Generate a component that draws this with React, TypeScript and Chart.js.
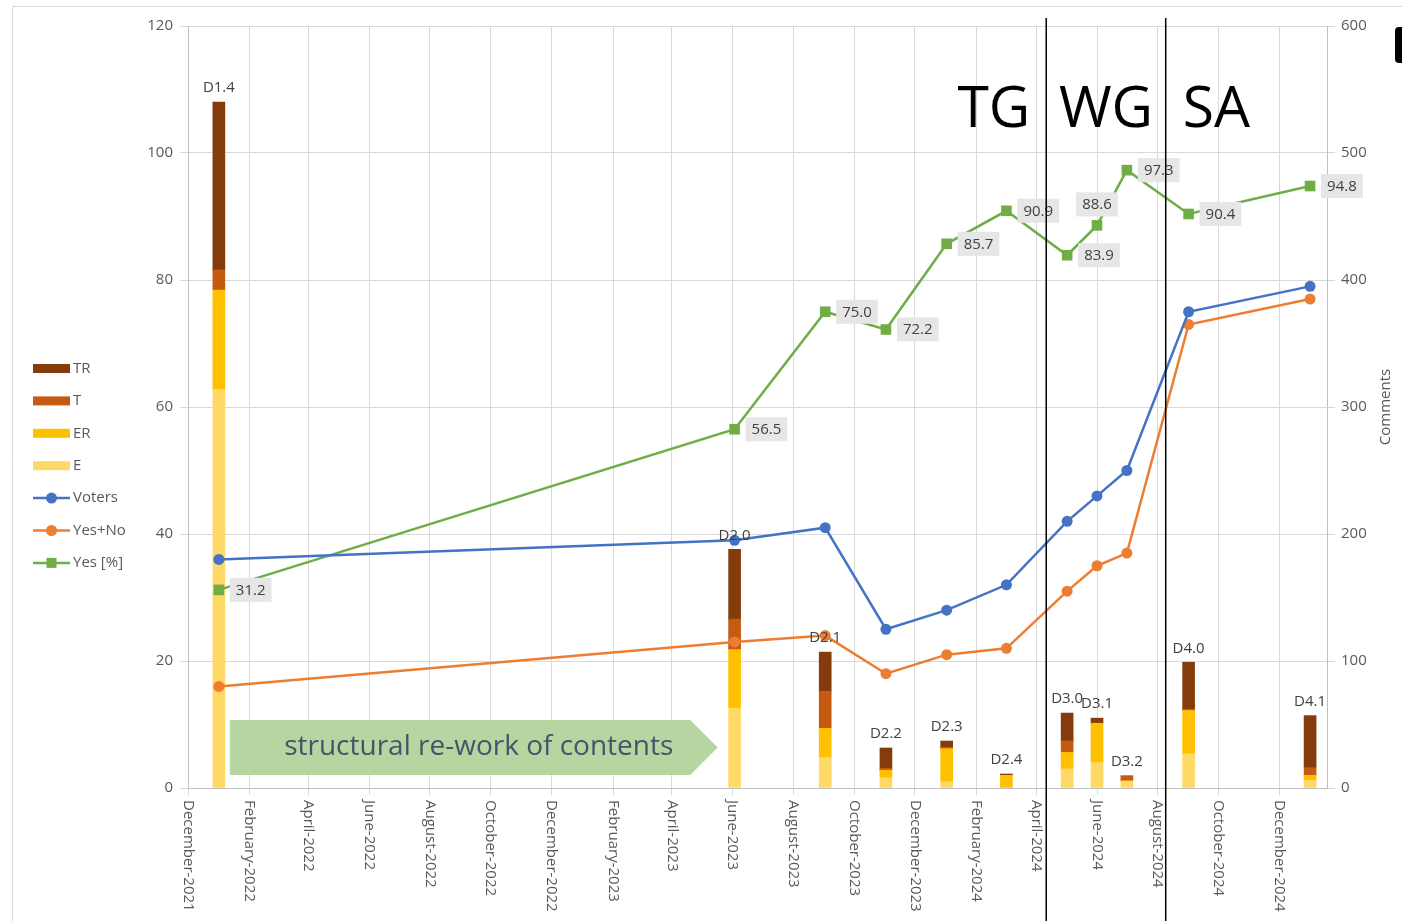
import React, { useEffect, useRef } from 'react';
import { Chart, registerables } from 'chart.js';

Chart.register(...registerables);

// x values are days since 1 December 2021
const releaseDays = [31, 549, 640, 701, 762, 822, 883, 913, 943, 1005, 1127];
const releaseNames = ['D1.4', 'D2.0', 'D2.1', 'D2.2', 'D2.3', 'D2.4', 'D3.0', 'D3.1', 'D3.2', 'D4.0', 'D4.1'];

// comments (right axis), stacked bottom -> top: E, ER, T, TR
const commentsE = [314, 63, 24, 8, 5, 0, 15, 20, 5.5, 27, 6];
const commentsER = [78, 46, 23, 6, 26, 10, 13, 31, 0, 34, 4];
const commentsT = [16, 24, 29, 1.5, 1, 0, 9, 0, 4, 1, 6];
const commentsTR = [132, 55, 31, 16, 5, 1, 22, 4, 0, 37, 41];

// left axis series
const voters = [36, 39, 41, 25, 28, 32, 42, 46, 50, 75, 79];
const yesNo = [16, 23, 24, 18, 21, 22, 31, 35, 37, 73, 77];
const yesPct = [31.2, 56.5, 75.0, 72.2, 85.7, 90.9, 83.9, 88.6, 97.3, 90.4, 94.8];

// x-axis tick positions (days since 1 Dec 2021) and labels
const monthTickDays = [0, 62, 121, 182, 243, 304, 365, 427, 486, 547, 608, 669, 730, 792, 852, 913, 974, 1035, 1096];
const monthTickLabels = [
  'December-2021', 'February-2022', 'April-2022', 'June-2022', 'August-2022', 'October-2022',
  'December-2022', 'February-2023', 'April-2023', 'June-2023', 'August-2023', 'October-2023',
  'December-2023', 'February-2024', 'April-2024', 'June-2024', 'August-2024', 'October-2024',
  'December-2024',
];
const xMinDay = 0;
const xMaxDay = 1144;

// phase boundaries (days) and phase names
const phaseBoundaryDays = [862, 982];
const phaseNames = ['TG', 'WG', 'SA'];

// annotation arrow (days and left-axis values)
const arrowText = 'structural re-work of contents';
const arrowDays = [42, 532];
const arrowValues = [2.05, 10.7];

const FONT = "'Open Sans', sans-serif";
const C_TR = '#843c0c';
const C_T = '#c55a11';
const C_ER = '#ffc000';
const C_E = '#ffd966';
const C_V = '#4472c4';
const C_YN = '#ed7d31';
const C_Y = '#70ad47';

const yesLabelAbove = [false, false, false, false, false, false, false, true, false, false, false];

const pts = (vals: number[]) => releaseDays.map((d, i) => ({ x: d, y: vals[i] }));

const decor = {
  id: 'decor',
  beforeDraw(chart: any) {
    const { ctx, width, height } = chart;
    ctx.save();
    ctx.fillStyle = '#ffffff';
    ctx.fillRect(0, 0, width, height);
    ctx.strokeStyle = '#d9d9d9';
    ctx.lineWidth = 1;
    ctx.beginPath();
    ctx.moveTo(12.5, height);
    ctx.lineTo(12.5, 6.5);
    ctx.lineTo(width, 6.5);
    ctx.stroke();
    ctx.restore();
  },
  beforeDatasetsDraw(chart: any) {
    const { ctx } = chart;
    const xs = chart.scales.x;
    const ys = chart.scales.y;
    const x0 = xs.getPixelForValue(arrowDays[0]);
    const xt = xs.getPixelForValue(arrowDays[1]);
    const yb = ys.getPixelForValue(arrowValues[0]);
    const yt = ys.getPixelForValue(arrowValues[1]);
    const h = yb - yt;
    const ym = (yt + yb) / 2;
    ctx.save();
    ctx.fillStyle = '#b5d5a1';
    ctx.beginPath();
    ctx.moveTo(x0, yt);
    ctx.lineTo(xt - h / 2, yt);
    ctx.lineTo(xt, ym);
    ctx.lineTo(xt - h / 2, yb);
    ctx.lineTo(x0, yb);
    ctx.closePath();
    ctx.fill();
    ctx.fillStyle = '#44546a';
    ctx.font = `28px ${FONT}`;
    ctx.textAlign = 'center';
    ctx.textBaseline = 'middle';
    ctx.fillText(arrowText, (x0 + xt) / 2 + 5, ym);
    ctx.restore();
  },
  afterDatasetsDraw(chart: any) {
    const { ctx } = chart;
    const xs = chart.scales.x;
    const yR = chart.scales.yR;
    ctx.save();
    ctx.font = `15px ${FONT}`;
    ctx.fillStyle = '#404040';
    ctx.textAlign = 'center';
    ctx.textBaseline = 'middle';
    releaseDays.forEach((d, i) => {
      const total = commentsE[i] + commentsER[i] + commentsT[i] + commentsTR[i];
      const x = xs.getPixelForValue(d);
      const y = yR.getPixelForValue(total);
      ctx.fillText(releaseNames[i], x, y - 14);
    });
    // Yes [%] data labels
    const meta = chart.getDatasetMeta(6);
    meta.data.forEach((el: any, i: number) => {
      const txt = yesPct[i].toFixed(1);
      const w = ctx.measureText(txt).width + 12;
      const hgt = 24;
      let cx: number, cy: number;
      if (yesLabelAbove[i]) {
        cx = el.x;
        cy = el.y - 21;
      } else {
        cx = el.x + 11 + w / 2;
        cy = el.y;
      }
      ctx.fillStyle = '#e7e6e6';
      ctx.fillRect(cx - w / 2, cy - hgt / 2, w, hgt);
      ctx.fillStyle = '#404040';
      ctx.fillText(txt, cx, cy + 0.5);
    });
    ctx.restore();
  },
  afterDraw(chart: any) {
    const { ctx, chartArea, height } = chart;
    const xs = chart.scales.x;
    ctx.save();
    // x tick labels, rotated to read top-to-bottom
    ctx.font = `15px ${FONT}`;
    ctx.fillStyle = '#595959';
    ctx.textAlign = 'left';
    ctx.textBaseline = 'middle';
    monthTickDays.forEach((d, i) => {
      const x = xs.getPixelForValue(d);
      ctx.save();
      ctx.translate(x, chartArea.bottom + 12);
      ctx.rotate(Math.PI / 2);
      ctx.fillText(monthTickLabels[i], 0, 0);
      ctx.restore();
    });
    // right axis title
    ctx.save();
    ctx.translate(chartArea.right + 59, (chartArea.top + chartArea.bottom) / 2);
    ctx.rotate(-Math.PI / 2);
    ctx.textAlign = 'center';
    ctx.fillText('Comments', 0, 0);
    ctx.restore();

    // legend
    const items = [
      { label: 'TR', color: C_TR, kind: 'box' },
      { label: 'T', color: C_T, kind: 'box' },
      { label: 'ER', color: C_ER, kind: 'box' },
      { label: 'E', color: C_E, kind: 'box' },
      { label: 'Voters', color: C_V, kind: 'circle' },
      { label: 'Yes+No', color: C_YN, kind: 'circle' },
      { label: 'Yes [%]', color: C_Y, kind: 'rect' },
    ];
    const lx0 = 33;
    const lx1 = 70;
    items.forEach((it, i) => {
      const y = 368.5 + i * 32.4;
      if (it.kind === 'box') {
        ctx.fillStyle = it.color;
        ctx.fillRect(lx0, y - 4.5, lx1 - lx0, 9);
      } else {
        ctx.strokeStyle = it.color;
        ctx.lineWidth = 2.5;
        ctx.beginPath();
        ctx.moveTo(lx0, y);
        ctx.lineTo(lx1, y);
        ctx.stroke();
        ctx.fillStyle = it.color;
        const cx = (lx0 + lx1) / 2;
        if (it.kind === 'circle') {
          ctx.beginPath();
          ctx.arc(cx, y, 5.5, 0, Math.PI * 2);
          ctx.fill();
        } else {
          ctx.fillRect(cx - 5, y - 5, 10, 10);
        }
      }
      ctx.fillStyle = '#595959';
      ctx.textAlign = 'left';
      ctx.fillText(it.label, lx1 + 3, y);
    });

    // phase boundaries
    const bx = phaseBoundaryDays.map((d) => xs.getPixelForValue(d));
    ctx.strokeStyle = '#000000';
    ctx.lineWidth = 1.5;
    bx.forEach((x) => {
      ctx.beginPath();
      ctx.moveTo(x, 18);
      ctx.lineTo(x, height);
      ctx.stroke();
    });
    ctx.fillStyle = '#000000';
    ctx.font = `57px ${FONT}`;
    ctx.textBaseline = 'alphabetic';
    const by = chartArea.top + 101;
    ctx.textAlign = 'right';
    ctx.fillText(phaseNames[0], bx[0] - 16, by);
    ctx.textAlign = 'center';
    ctx.fillText(phaseNames[1], (bx[0] + bx[1]) / 2, by);
    ctx.textAlign = 'left';
    ctx.fillText(phaseNames[2], bx[1] + 17, by);

    // clipped black shape at the right edge
    ctx.beginPath();
    const rx = 1395, ry = 27, rw = 20, rh = 36, rr = 4;
    ctx.moveTo(rx + rr, ry);
    ctx.lineTo(rx + rw, ry);
    ctx.lineTo(rx + rw, ry + rh);
    ctx.lineTo(rx + rr, ry + rh);
    ctx.quadraticCurveTo(rx, ry + rh, rx, ry + rh - rr);
    ctx.lineTo(rx, ry + rr);
    ctx.quadraticCurveTo(rx, ry, rx + rr, ry);
    ctx.fill();
    ctx.restore();
  },
};

export default function App() {
  const ref = useRef<HTMLCanvasElement>(null);
  useEffect(() => {
    document.body.style.margin = '0';
    const barDs = (label: string, vals: number[], color: string) => ({
      type: 'bar' as const,
      label,
      data: pts(vals),
      backgroundColor: color,
      borderWidth: 0,
      barThickness: 12,
      xAxisID: 'x',
      yAxisID: 'yR',
      order: 2,
    });
    const lineDs = (label: string, vals: number[], color: string, style: string, radius: number) => ({
      type: 'line' as const,
      label,
      data: pts(vals),
      borderColor: color,
      backgroundColor: color,
      borderWidth: 2.5,
      pointStyle: style,
      pointRadius: radius,
      pointBorderWidth: 0,
      tension: 0,
      xAxisID: 'x',
      yAxisID: 'y',
      order: 1,
    });
    const tickFont = { family: FONT, size: 15 };
    const chart = new Chart(ref.current as HTMLCanvasElement, {
      type: 'bar',
      data: {
        datasets: [
          barDs('E', commentsE, C_E),
          barDs('ER', commentsER, C_ER),
          barDs('T', commentsT, C_T),
          barDs('TR', commentsTR, C_TR),
          lineDs('Voters', voters, C_V, 'circle', 5.5),
          lineDs('Yes+No', yesNo, C_YN, 'circle', 5.5),
          lineDs('Yes [%]', yesPct, C_Y, 'rect', 7.5),
        ] as any,
      },
      options: {
        responsive: false,
        animation: false,
        layout: { padding: { top: 26, left: 0, right: 0, bottom: 0 } },
        plugins: { legend: { display: false }, tooltip: { enabled: false } },
        scales: {
          x: {
            type: 'linear',
            min: xMinDay,
            max: xMaxDay,
            offset: false,
            stacked: true,
            afterBuildTicks: (axis: any) => {
              axis.ticks = monthTickDays.map((v) => ({ value: v }));
            },
            afterFit: (s: any) => {
              s.height = 133;
            },
            grid: { color: '#d9d9d9', offset: false, tickLength: 7, drawTicks: true },
            border: { color: '#bfbfbf' },
            ticks: { display: false },
          },
          y: {
            type: 'linear',
            position: 'left',
            min: 0,
            max: 120,
            ticks: { stepSize: 20, font: tickFont, color: '#595959', padding: 7 },
            grid: { color: '#d9d9d9', tickLength: 8 },
            border: { color: '#bfbfbf' },
            afterFit: (s: any) => {
              s.width = 188;
            },
          },
          yR: {
            type: 'linear',
            position: 'right',
            min: 0,
            max: 600,
            stacked: true,
            ticks: { stepSize: 100, font: tickFont, color: '#595959', padding: 6 },
            grid: { drawOnChartArea: false, color: '#d9d9d9', tickLength: 8 },
            border: { color: '#bfbfbf' },
            afterFit: (s: any) => {
              s.width = 75;
            },
          },
        },
      } as any,
      plugins: [decor],
    });
    return () => chart.destroy();
  }, []);
  return (
    <div style={{ width: 1402, height: 921 }}>
      <canvas ref={ref} width={1402} height={921} style={{ display: 'block' }} />
    </div>
  );
}
